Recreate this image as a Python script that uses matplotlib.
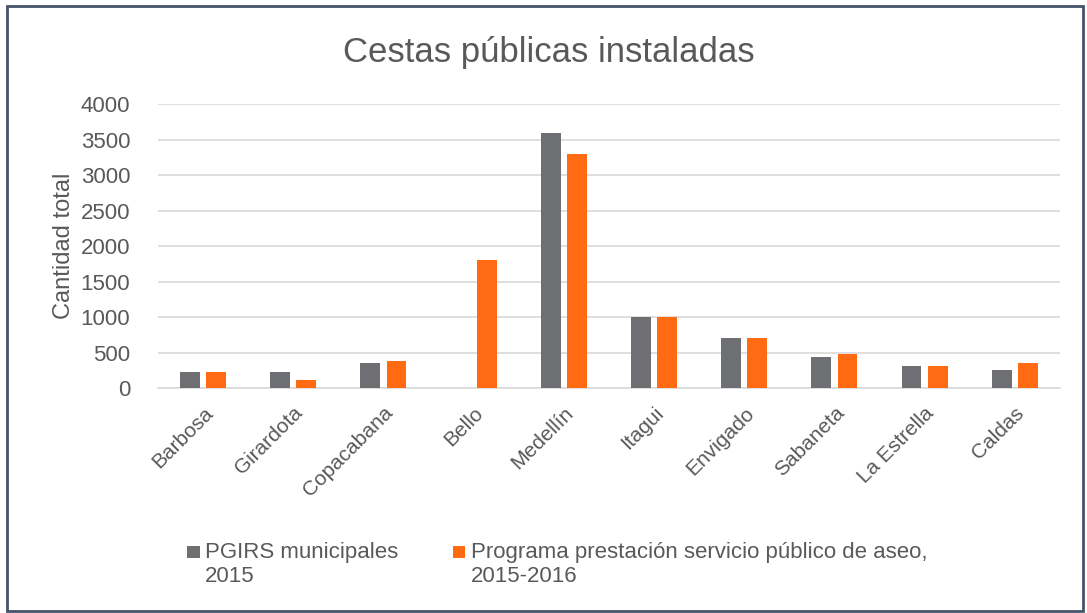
import matplotlib
matplotlib.use("Agg")
import matplotlib.pyplot as plt
import numpy as np
from matplotlib.patches import Rectangle
from matplotlib.container import BarContainer
from matplotlib.legend_handler import HandlerPatch, update_from_first_child

categories = ["Barbosa", "Girardota", "Copacabana", "Bello", "Medellín",
              "Itagui", "Envigado", "Sabaneta", "La Estrella", "Caldas"]
pgirs_2015 = [220, 220, 350, 0, 3600, 1000, 700, 440, 310, 260]
programa_2015_2016 = [220, 110, 380, 1800, 3300, 1000, 700, 480, 310, 350]
series_names = ["PGIRS municipales\n2015",
                "Programa prestación servicio público de aseo,\n2015-2016"]
yticks = [0, 500, 1000, 1500, 2000, 2500, 3000, 3500, 4000]

plt.rcParams['font.family'] = ['Liberation Sans', 'DejaVu Sans']
text_color = "#595959"
gray = "#6E6F72"
orange = "#FF6A13"

fig = plt.figure(figsize=(10.87, 6.13), dpi=100)
ax = fig.add_axes([0.1454, 0.367, 0.8296, 0.463])

x = np.arange(len(categories))
w = 0.22
off = 0.145
ax.bar(x - off, pgirs_2015, w, color=gray, label=series_names[0], zorder=3)
ax.bar(x + off, programa_2015_2016, w, color=orange, label=series_names[1], zorder=3)

ax.set_xlim(-0.5, len(categories) - 0.5)
ax.set_ylim(0, 4000)
ax.set_yticks(yticks)
ax.set_yticklabels([str(v) for v in yticks], fontsize=16, color=text_color)
ax.set_xticks(x)
ax.set_xticklabels(categories, rotation=45, ha="right", rotation_mode="anchor",
                   fontsize=15, color=text_color)
ax.tick_params(axis="y", length=0, pad=20)
ax.tick_params(axis="x", length=0, pad=11)
ax.grid(axis="y", color="#d9d9d9", linewidth=1.2, zorder=0)
for s in ["top", "right", "left"]:
    ax.spines[s].set_visible(False)
ax.spines["bottom"].set_color("#d9d9d9")
ax.spines["bottom"].set_linewidth(1.2)
ax.set_ylabel("Cantidad total", fontsize=17, color=text_color, labelpad=4)

fig.text(0.505, 0.915, "Cestas públicas instaladas", ha="center", va="center",
         fontsize=25, color=text_color)


def top_square(legend, orig_handle, xdescent, ydescent, width, height, fontsize):
    s = 0.55 * fontsize
    return Rectangle((-xdescent + width - s, -ydescent + height / 2 + 0.32 * fontsize),
                     s, s)


leg = fig.legend(loc="upper left", bbox_to_anchor=(0.153, 0.148), ncol=2,
                 frameon=False, fontsize=16, labelcolor=text_color,
                 handlelength=0.6, handleheight=0.6, handletextpad=0.25,
                 columnspacing=2.4,
                 handler_map={BarContainer: HandlerPatch(
                     patch_func=top_square, update_func=update_from_first_child)})

fig.patches.append(Rectangle((0.006, 0.003), 0.99, 0.988, transform=fig.transFigure,
                             fill=False, edgecolor="#44546A", linewidth=2))

fig.savefig("out.png", dpi=100)
